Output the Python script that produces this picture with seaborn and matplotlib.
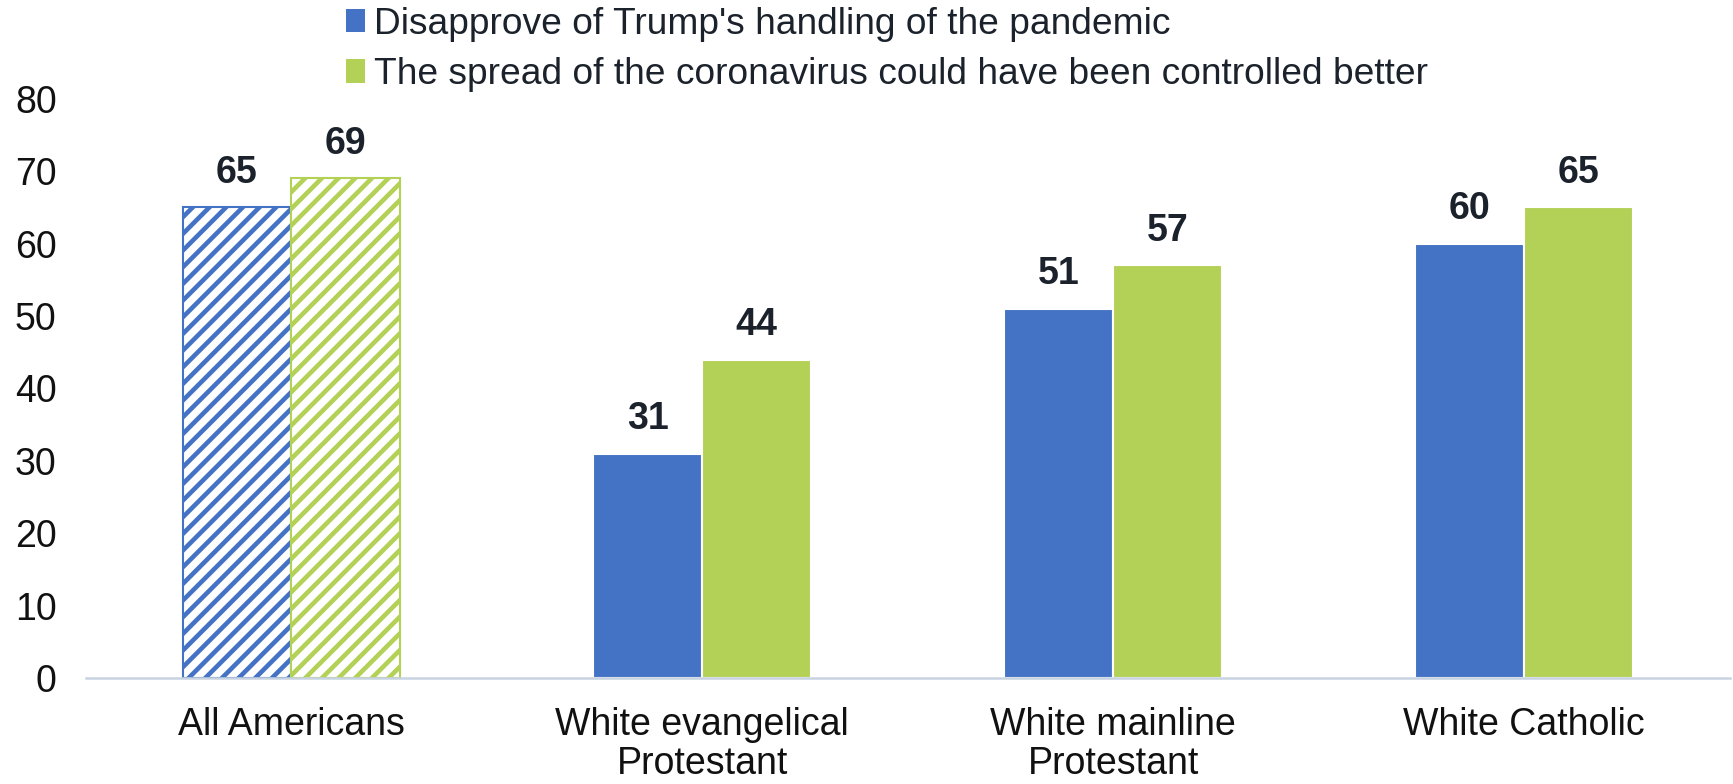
import pandas as pd
import matplotlib.pyplot as plt
import seaborn as sns
from matplotlib.patches import Patch

# Chart data
categories = ['All Americans', 'White evangelical\nProtestant', 'White mainline\nProtestant', 'White Catholic']
series_names = ["Disapprove of Trump's handling of the pandemic",
                'The spread of the coronavirus could have been controlled better']
disapprove = [65, 31, 51, 60]
controlled = [69, 44, 57, 65]
yticks = [0, 10, 20, 30, 40, 50, 60, 70, 80]

colors = ['#4472C4', '#B4D157']
text_color = '#1B222B'
fs = 18

df = pd.DataFrame({
    'Group': categories * 2,
    'Series': [series_names[0]] * 4 + [series_names[1]] * 4,
    'Value': disapprove + controlled,
})

sns.set_style('white')
plt.rcParams['font.family'] = ['Liberation Sans', 'DejaVu Sans']
plt.rcParams['hatch.linewidth'] = 2.2

fig = plt.figure(figsize=(1733 / 150, 784 / 150), dpi=150)
ax = fig.add_axes([0.0496, 0.135, 0.9484, 0.739])

sns.barplot(data=df, x='Group', y='Value', hue='Series', order=categories,
            hue_order=series_names, palette=colors, width=0.53, gap=0,
            saturation=1, legend=False, ax=ax)

# All Americans bars are drawn hatched
for cont, col in zip(ax.containers, colors):
    bar = cont.patches[0]
    bar.set_facecolor('white')
    bar.set_edgecolor(col)
    bar.set_hatch('///')
    bar.set_linewidth(1.0)
    ax.bar_label(cont, fmt='%d', padding=8, fontsize=fs, fontweight='bold', color=text_color)

ax.set_xlim(-0.5, 3.5)
ax.set_ylim(0, 80)
ax.set_yticks(yticks)
ax.set_xlabel('')
ax.set_ylabel('')
ax.tick_params(axis='y', length=0, pad=14, labelsize=fs, labelcolor='#111111')
ax.tick_params(axis='x', length=0, pad=14, labelsize=fs, labelcolor='#111111')
for lbl in ax.get_xticklabels():
    lbl.set_linespacing(1.1)
for s in ['top', 'right', 'left']:
    ax.spines[s].set_visible(False)
ax.spines['bottom'].set_color('#C8D3E2')
ax.spines['bottom'].set_linewidth(1.2)

handles = [Patch(facecolor=c, edgecolor='none') for c in colors]
fig.legend(handles, series_names, loc='upper left', bbox_to_anchor=(0.187, 1.02),
           frameon=False, fontsize=17.8, handlelength=0.5, handleheight=0.6,
           handletextpad=0.25, labelspacing=0.42, borderpad=0.1, labelcolor=text_color)

fig.savefig('out.png', dpi=150)
